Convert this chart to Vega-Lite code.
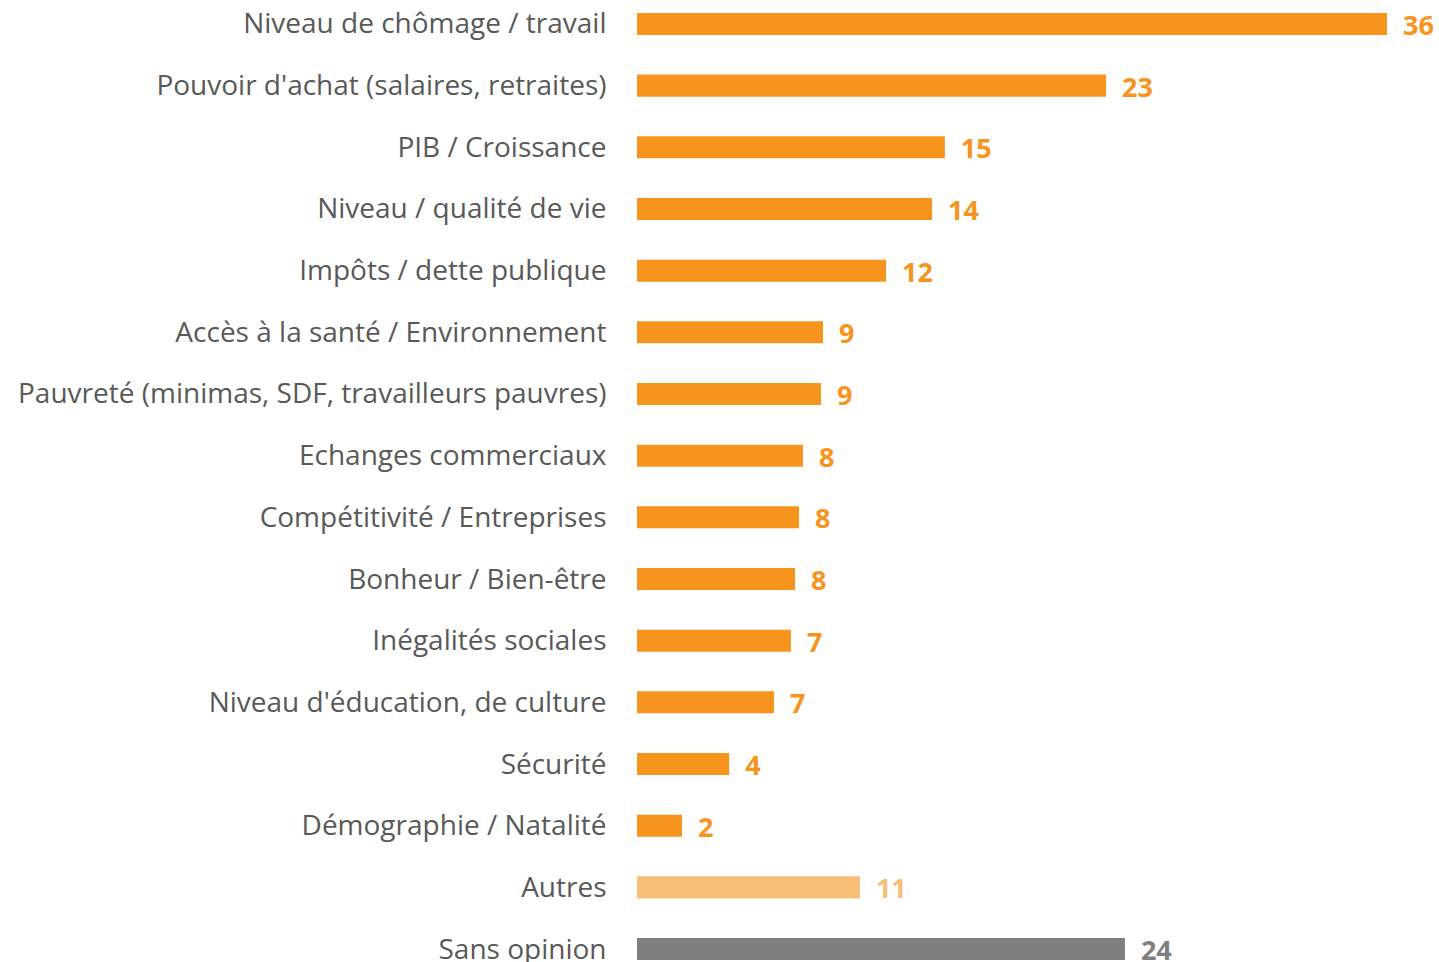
{
  "$schema": "https://vega.github.io/schema/vega-lite/v6.json",
  "width": 750,
  "height": 973,
  "autosize": {"type": "none"},
  "padding": {"left": 637, "top": 0, "right": 52, "bottom": 0},
  "background": "white",
  "config": {"view": {"stroke": null}},
  "data": {
    "values": [
      {"cat": "Niveau de chômage / travail", "value": 36.2, "group": "main"},
      {"cat": "Pouvoir d'achat (salaires, retraites)", "value": 22.64, "group": "main"},
      {"cat": "PIB / Croissance", "value": 14.86, "group": "main"},
      {"cat": "Niveau / qualité de vie", "value": 14.24, "group": "main"},
      {"cat": "Impôts / dette publique", "value": 12.02, "group": "main"},
      {"cat": "Accès à la santé / Environnement", "value": 8.98, "group": "main"},
      {"cat": "Pauvreté (minimas, SDF, travailleurs pauvres)", "value": 8.88, "group": "main"},
      {"cat": "Echanges commerciaux", "value": 8.01, "group": "main"},
      {"cat": "Compétitivité / Entreprises", "value": 7.82, "group": "main"},
      {"cat": "Bonheur / Bien-être", "value": 7.63, "group": "main"},
      {"cat": "Inégalités sociales", "value": 7.43, "group": "main"},
      {"cat": "Niveau d'éducation, de culture", "value": 6.61, "group": "main"},
      {"cat": "Sécurité", "value": 4.45, "group": "main"},
      {"cat": "Démographie / Natalité", "value": 2.17, "group": "main"},
      {"cat": "Autres", "value": 10.76, "group": "autres"},
      {"cat": "Sans opinion", "value": 23.55, "group": "sans"}
    ]
  },
  "encoding": {
    "y": {
      "field": "cat",
      "type": "nominal",
      "sort": null,
      "scale": {"paddingInner": 0.643, "paddingOuter": 0.21},
      "axis": {
        "title": null,
        "domain": false,
        "ticks": false,
        "tickSize": 0,
        "labelPadding": 31,
        "labelOffset": 1.5,
        "labelFont": "Open Sans",
        "labelFontSize": 28,
        "labelColor": "#595959",
        "labelLimit": 700
      }
    },
    "x": {
      "field": "value",
      "type": "quantitative",
      "scale": {"domain": [0, 36.2]},
      "axis": null
    },
    "color": {
      "field": "group",
      "type": "nominal",
      "scale": {"domain": ["main", "autres", "sans"], "range": ["#F7941D", "#F8BF77", "#7F7F7F"]},
      "legend": null
    }
  },
  "layer": [
    {"mark": {"type": "bar"}},
    {
      "mark": {"type": "text", "align": "left", "baseline": "middle", "dx": 16, "dy": 3, "font": "Open Sans", "fontWeight": "bold", "fontSize": 27},
      "encoding": {"text": {"field": "value", "type": "quantitative", "format": ".0f"}}
    }
  ]
}
